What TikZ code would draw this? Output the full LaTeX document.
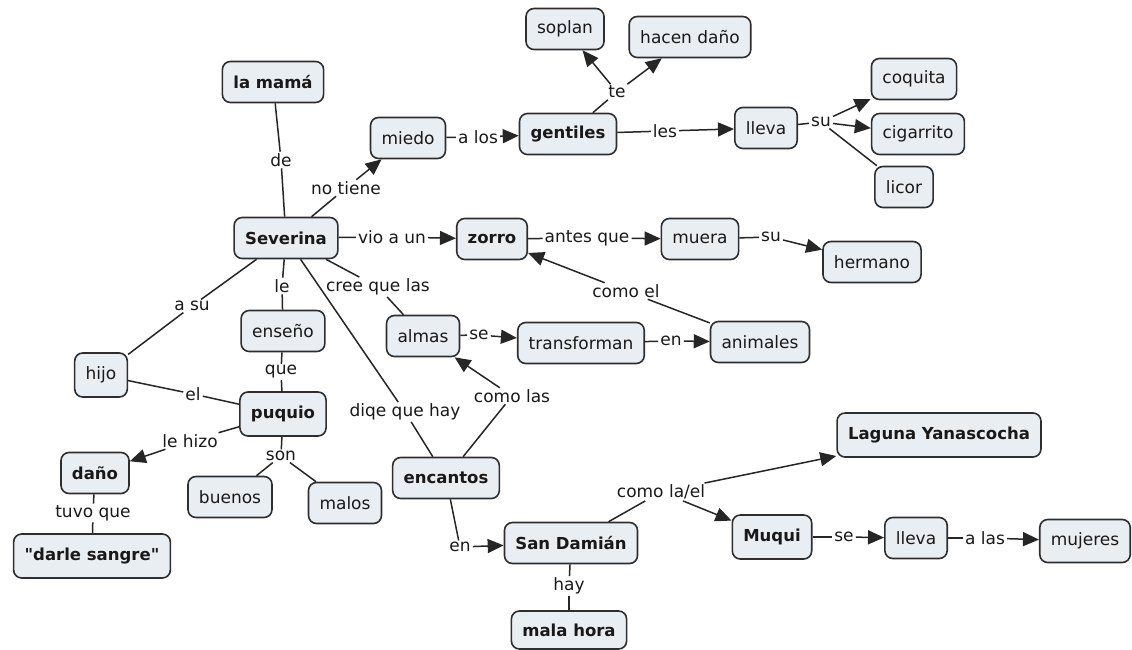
\documentclass[tikz,border=0pt]{standalone}
\usepackage{fontspec}
\setmainfont{DejaVu Sans}[Ligatures=TeXOff]
\usetikzlibrary{arrows.meta}
\definecolor{boxfill}{HTML}{E9EEF3}
\definecolor{boxline}{HTML}{2E2E2E}
\definecolor{linkline}{HTML}{262626}
\begin{document}
\begin{tikzpicture}[x=1pt,y=-1pt,
  concept/.style={draw=boxline, line width=1.6pt, fill=boxfill, rounded corners=8pt,
    minimum height=41pt, inner xsep=11pt, inner ysep=3pt, text=black!90,
    font=\fontsize{17}{20}\selectfont},
  key/.style={concept, font=\fontsize{16.5}{20}\selectfont\bfseries},
  lbl/.style={inner xsep=2pt, inner ysep=1.5pt, text=black!90, font=\fontsize{17}{20}\selectfont},
  link/.style={draw=linkline, line width=1.5pt},
  arr/.style={link, -{Triangle[length=16pt,width=14pt]}},
]
\useasboundingbox[fill=white] (0,0) rectangle (1132,650);

% concepts
\node[key]     (mama)        at (273,82)   {la mamá};
\node[concept] (soplan)      at (565,29)   {soplan};
\node[concept] (hacen)       at (690,37)   {hacen daño};
\node[concept] (miedo)       at (408,138)  {miedo};
\node[key]     (gentiles)    at (568,134)  {gentiles};
\node[concept] (lleva)       at (766,128)  {lleva};
\node[concept] (coquita)     at (914,79)   {coquita};
\node[concept] (cigarrito)   at (918,134)  {cigarrito};
\node[concept] (licor)       at (904,187)  {licor};
\node[key]     (severina)    at (286,238)  {Severina};
\node[key]     (zorro)       at (492,239)  {zorro};
\node[concept] (muera)       at (700,239)  {muera};
\node[concept] (hermano)     at (872,262)  {hermano};
\node[concept] (enseno)      at (283,331)  {enseño};
\node[concept] (almas)       at (423,336)  {almas};
\node[concept] (transforman) at (581,343)  {transforman};
\node[concept] (animales)    at (760,342)  {animales};
\node[concept, minimum height=44pt] (hijo) at (101,375) {hijo};
\node[key, minimum height=44pt] (puquio) at (283,414) {puquio};
\node[key]     (dano)        at (95,473)   {daño};
\node[concept] (buenos)      at (230,497)  {buenos};
\node[concept] (malos)       at (345,503)  {malos};
\node[key]     (encantos)    at (446,478)  {encantos};
\node[key, minimum height=44pt] (sangre) at (92,556) {"darle sangre"};
\node[key]     (sandamian)   at (571,543)  {San Damián};
\node[key, minimum height=38pt] (malahora) at (569,630) {mala hora};
\node[key, minimum height=44pt] (laguna) at (939,435) {Laguna Yanascocha};
\node[key, minimum height=44pt] (muqui) at (772,537) {Muqui};
\node[concept] (lleva2)      at (916,538)  {lleva};
\node[concept, minimum height=43pt] (mujeres) at (1085,541) {mujeres};

% linking phrases
\node[lbl] (lde)       at (281,160) {de};
\node[lbl] (lnotiene)  at (346,188) {no tiene};
\node[lbl] (lalos)     at (478,137) {a los};
\node[lbl] (lte)       at (617,92)  {te};
\node[lbl] (lles)      at (665,131) {les};
\node[lbl] (lsu)       at (821,122) {su};
\node[lbl] (lvio)      at (392,237) {vio a un};
\node[lbl] (lantes)    at (587,238) {antes que};
\node[lbl] (lsu2)      at (771,237) {su};
\node[lbl] (lcomoel)   at (626,291) {como el};
\node[lbl] (lasu)      at (192,306) {a su};
\node[lbl] (lle)       at (282,286) {le};
\node[lbl] (lcree)     at (378,287) {cree que las};
\node[lbl] (lse)       at (479,335) {se};
\node[lbl] (len)       at (671,341) {en};
\node[lbl] (lque)      at (281,372) {que};
\node[lbl] (lel)       at (193,394) {el};
\node[lbl] (ldiqe)     at (405,412) {diqe que hay};
\node[lbl] (lcomolas)  at (512,396) {como las};
\node[lbl] (lhizo)     at (190,441) {le hizo};
\node[lbl] (lson)      at (281,456) {son};
\node[lbl] (ltuvo)     at (93,513)  {tuvo que};
\node[lbl] (len2)      at (460,547) {en};
\node[lbl] (lcomola)   at (661,492) {como la/el};
\node[lbl] (lhay)      at (569,586) {hay};
\node[lbl] (lse2)      at (844,537) {se};
\node[lbl] (lalas)     at (985,538) {a las};

% connectors
\draw[link] (mama) -- (lde);
\draw[link] (lde) -- (severina);
\draw[link] (severina) -- (lnotiene);
\draw[arr]  (lnotiene) -- (miedo);
\draw[link] (miedo) -- (lalos);
\draw[arr]  (lalos) -- (gentiles);
\draw[link] (gentiles) -- (lte);
\draw[arr]  (lte) -- (soplan);
\draw[arr]  (lte) -- (hacen);
\draw[link] (gentiles) -- (lles);
\draw[arr]  (lles) -- (lleva);
\draw[link] (lleva) -- (lsu);
\draw[arr]  (lsu) -- (coquita);
\draw[arr]  (lsu) -- (cigarrito);
\draw[link] (lsu) -- (licor);
\draw[link] (severina) -- (lvio);
\draw[arr]  (lvio) -- (zorro);
\draw[link] (zorro) -- (lantes);
\draw[arr]  (lantes) -- (muera);
\draw[link] (muera) -- (lsu2);
\draw[arr]  (lsu2) -- (hermano);
\draw[link] (animales) -- (lcomoel);
\draw[arr]  (lcomoel) -- (zorro);
\draw[link] (severina) -- (lasu);
\draw[link] (lasu) -- (hijo);
\draw[link] (severina) -- (lle);
\draw[link] (lle) -- (enseno);
\draw[link] (severina) -- (lcree);
\draw[link] (lcree) -- (almas);
\draw[link] (almas) -- (lse);
\draw[arr]  (lse) -- (transforman);
\draw[link] (transforman) -- (len);
\draw[arr]  (len) -- (animales);
\draw[link] (enseno) -- (lque);
\draw[link] (lque) -- (puquio);
\draw[link] (hijo) -- (lel);
\draw[link] (lel) -- (puquio);
\draw[link] (severina) -- (ldiqe);
\draw[link] (ldiqe) -- (encantos);
\draw[link] (encantos) -- (lcomolas);
\draw[arr]  (lcomolas) -- (almas);
\draw[link] (puquio) -- (lhizo);
\draw[arr]  (lhizo) -- (dano);
\draw[link] (puquio) -- (lson);
\draw[link] (lson) -- (buenos);
\draw[link] (lson) -- (malos);
\draw[link] (dano) -- (ltuvo);
\draw[link] (ltuvo) -- (sangre);
\draw[link] (encantos) -- (len2);
\draw[arr]  (len2) -- (sandamian);
\draw[link] (sandamian) -- (lcomola);
\draw[arr]  (lcomola) -- (laguna);
\draw[arr]  (lcomola) -- (muqui);
\draw[link] (sandamian) -- (lhay);
\draw[link] (lhay) -- (malahora);
\draw[link] (muqui) -- (lse2);
\draw[arr]  (lse2) -- (lleva2);
\draw[link] (lleva2) -- (lalas);
\draw[arr]  (lalas) -- (mujeres);
\end{tikzpicture}
\end{document}
